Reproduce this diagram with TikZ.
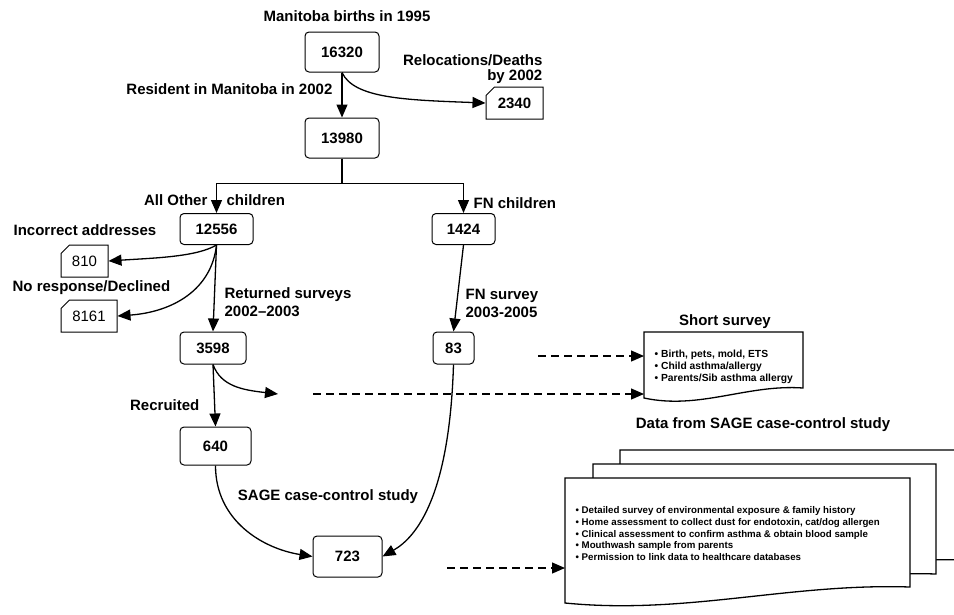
\documentclass[tikz,border=0pt]{standalone}
\usepackage{fontspec}
\setmainfont{Liberation Sans}
\usetikzlibrary{shapes.misc}
\usetikzlibrary{arrows.meta}

% paper sheet with a wavy lower edge: x1, top, x2, right bottom, left bottom
\newcommand{\docsheet}[5]{%
  \filldraw[fill=white] (#1,#2) -- (#3,#2) -- (#3,#4)
    .. controls ({#3-0.35*(#3-#1)},{#4-4}) and ({#1+0.35*(#3-#1)},{#5+12}) .. (#1,#5) -- cycle;}

\begin{document}
\begin{tikzpicture}[x=1pt,y=-1pt,line width=1.3pt,
					box/.style={draw,line width=1pt,rounded corners=4pt,inner sep=0pt,font=\bfseries\fontsize{15}{18}\selectfont},
					card/.style={draw,line width=1pt,chamfered rectangle,chamfered rectangle corners=north west,chamfered rectangle xsep=5pt,inner sep=0pt,font=\fontsize{15}{18}\selectfont},
					lbl/.style={inner sep=0pt,font=\bfseries\fontsize{15}{18}\selectfont},
					arr/.style={-{Triangle[length=13pt,width=11pt]}},
					dasharr/.style={arr,dash pattern=on 8pt off 5pt}
					]
	\useasboundingbox (0,0) rectangle (954,614);

	% main counts
	\node[box,minimum width=74pt,minimum height=40pt] (b16320) at (342,52) {16320};
	\node[box,minimum width=74pt,minimum height=40pt] (b13980) at (342,138) {13980};
	\node[box,minimum width=73pt,minimum height=31pt] (b12556) at (216.5,229) {12556};
	\node[box,minimum width=63pt,minimum height=31pt] (b1424) at (463.5,229) {1424};
	\node[box,minimum width=66pt,minimum height=32pt] (b3598) at (213,348) {3598};
	\node[box,minimum width=41pt,minimum height=32pt] (b83) at (453.5,348) {83};
	\node[box,minimum width=71pt,minimum height=38pt] (b640) at (215.5,446) {640};
	\node[box,minimum width=69pt,minimum height=41pt] (b723) at (347.5,556.5) {723};
	\node[card,minimum width=57pt,minimum height=32pt,font=\bfseries\fontsize{15}{18}\selectfont] (c2340) at (514.5,103) {2340};
	\node[card,minimum width=47pt,minimum height=32pt] (c810) at (84.5,261) {810};
	\node[card,minimum width=56pt,minimum height=32pt] (c8161) at (89,316) {8161};

	% labels
	\node[lbl] (tbirths) at (347,16) {Manitoba births in 1995};
	\node[lbl,anchor=east] (tresident) at (333,89) {Resident in Manitoba in 2002};
	\node[lbl,anchor=south east,align=right] (treloc) at (543,84) {Relocations/Deaths\\[-3pt]by 2002};
	\node[lbl,anchor=east] (tother) at (208,200) {All Other};
	\node[lbl,anchor=west] (tchildren) at (226,200) {children};
	\node[lbl,anchor=west] (tfn) at (473,203) {FN children};
	\node[lbl,anchor=west] (tincorrect) at (13,230) {Incorrect addresses};
	\node[lbl,anchor=west] (tnoresp) at (12,288) {No response/Declined};
	\node[lbl,anchor=west,align=left] (treturned) at (224,302.5) {Returned surveys\\2002--2003};
	\node[lbl,anchor=west,align=left] (tfnsurvey) at (465,303) {FN survey\\2003-2005};
	\node[lbl,anchor=east] (trecruited) at (200,405) {Recruited};
	\node[lbl] (tsage) at (328,497) {SAGE case-control study};
	\node[lbl] (tshort) at (725,322) {Short survey};
	\node[lbl] (tdata) at (763,425) {Data from SAGE case-control study};

	% survey sheets
	\docsheet{644}{332}{803}{388}{398}
	\node[anchor=north west,align=left,inner sep=0pt,font=\bfseries\fontsize{10.3}{12}\selectfont] (shortlist) at (654,349)
		{• Birth, pets, mold, ETS\\• Child asthma/allergy\\• Parents/Sib asthma allergy};
	\begin{scope}
		\clip (0,0) rectangle (954,614);
		\docsheet{620}{450}{964}{560}{576}
		\docsheet{593}{464}{936}{574}{590}
		\docsheet{565}{478}{910}{587}{603}
	\end{scope}
	\node[anchor=north west,align=left,inner sep=0pt,font=\bfseries\fontsize{9.7}{11.7}\selectfont] (datalist) at (575,506)
		{• Detailed survey of environmental exposure \& family history\\
		 • Home assessment to collect dust for endotoxin, cat/dog allergen\\
		 • Clinical assessment to confirm asthma \& obtain blood sample\\
		 • Mouthwash sample from parents\\
		 • Permission to link data to healthcare databases};

	\coordinate (shortin1) at (644,356);
	\coordinate (shortin2) at (644,394);
	\coordinate (datain) at (565,568);
	\coordinate (d1) at (538,356);
	\coordinate (d2) at (313,394);
	\coordinate (d3) at (447,568);
	\coordinate (f1) at (278,394);

	% connectors
	\draw[arr] (b16320.south) -- (b13980.north);
	\draw[arr] (b16320.south) .. controls +(12,26) and +(-80,-3) .. (c2340.west);
	\draw[arr] (b13980.south) -- ++(0,25) -| (b12556.north);
	\draw[arr] (b13980.south) -- ++(0,25) -| (b1424.north);
	\draw[arr] (b12556.south) .. controls +(-20,12) and +(45,-3) .. (c810.east);
	\draw[arr] (b12556.south) .. controls +(-5,45) and +(55,-4) .. (c8161.east);
	\draw[arr] (b12556.south) -- (b3598.north);
	\draw[arr] (b1424.south) -- (b83.north);
	\draw[arr] (b3598.south) -- (b640.north);
	\draw[arr] (b3598.south) .. controls +(8,22) and +(-35,-4) .. (f1);
	\draw[arr] (b640.south) .. controls +(0,55) and +(-50,-8) .. (b723.west);
	\draw[arr] (b83.south) .. controls +(-4,130) and +(35,-20) .. (b723.east);
	\draw[dasharr] (d1) -- (shortin1);
	\draw[dasharr] (d2) -- (shortin2);
	\draw[dasharr] (d3) -- (datain);
\end{tikzpicture}
\end{document}
